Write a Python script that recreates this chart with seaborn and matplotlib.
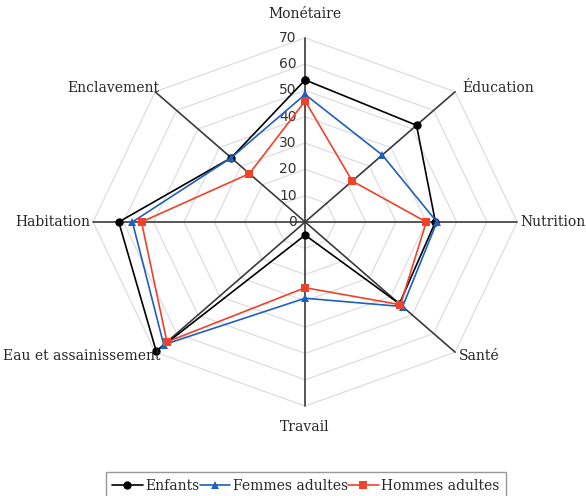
import numpy as np
import pandas as pd
import seaborn as sns
import matplotlib.pyplot as plt

categories = ["Monétaire", "Éducation", "Nutrition", "Santé", "Travail",
              "Eau et assainissement", "Habitation", "Enclavement"]
enfants = [54, 52, 43, 44, 5, 69.5, 61.5, 34.5]
femmes = [48.5, 36, 43.5, 45.5, 29, 66, 57, 34.5]
hommes = [46, 22, 40, 44.5, 25, 64.5, 54, 26]
series_names = ["Enfants", "Femmes adultes", "Hommes adultes"]
ticks = [0, 10, 20, 30, 40, 50, 60, 70]

sns.set_style("white")
plt.rcParams['font.family'] = ['DejaVu Serif']

angles = np.arange(len(categories)) * 2 * np.pi / len(categories)

# build a long table, closing each polygon
rows = []
for name, vals in zip(series_names, [enfants, femmes, hommes]):
    for i in list(range(len(categories))) + [0]:
        rows.append({"série": name, "ordre": len(rows),
                     "x": vals[i] * np.sin(angles[i]),
                     "y": vals[i] * np.cos(angles[i])})
data = pd.DataFrame(rows)

fig = plt.figure(figsize=(5.86, 4.96), dpi=100)
ax = fig.add_axes([0, 0, 1, 1])
ax.set_xlim(-100.7, 92.7)
ax.set_ylim(-104.2, 84.4)
ax.axis('off')

# octagonal grid
for t in ticks[1:]:
    gx = [t * np.sin(a) for a in angles] + [0]
    gy = [t * np.cos(a) for a in angles] + [t]
    ax.plot(gx, gy, color='#dedede', lw=0.9, zorder=0)
for a in angles:
    ax.plot([0, 70 * np.sin(a)], [0, 70 * np.cos(a)], color='#3a3a3a', lw=1.2, zorder=1)

for t in ticks:
    ax.annotate(str(t), (0, t), xytext=(-6, 0), textcoords='offset points',
                ha='right', va='center', fontsize=10, family='DejaVu Sans', color='#333333')

palette = {"Enfants": "black", "Femmes adultes": "#1F5FBF", "Hommes adultes": "#F0412B"}
markers = {"Enfants": "o", "Femmes adultes": "^", "Hommes adultes": "s"}
sns.lineplot(data=data, x="x", y="y", hue="série", style="série", units="série",
             estimator=None, sort=False, palette=palette, markers=markers, dashes=False,
             markersize=6, markeredgewidth=0, linewidth=1.2, ax=ax, zorder=3)

# marker sizes per series
sizes = {"Enfants": 5.5, "Femmes adultes": 7, "Hommes adultes": 6}
for line in ax.lines:
    if line.get_label() in sizes:
        line.set_markersize(sizes[line.get_label()])

# category labels
offsets = [(0, 12, 'center', 'bottom'), (5, 3, 'left', 'center'), (2, 0, 'left', 'center'),
           (3, -3, 'left', 'center'), (0, -10, 'center', 'top'), (4, -3, 'right', 'center'),
           (-2, 0, 'right', 'center'), (3, 3, 'right', 'center')]
for cat, a, (dx, dy, ha, va) in zip(categories, angles, offsets):
    ax.annotate(cat, (70 * np.sin(a), 70 * np.cos(a)), xytext=(dx, dy),
                textcoords='offset points', ha=ha, va=va, fontsize=10)

sns.move_legend(ax, "lower center", bbox_to_anchor=(0.522, -0.02), ncol=3, title=None,
                frameon=True, handlelength=2.2, columnspacing=0.0, handletextpad=0.2,
                borderpad=0.45, fontsize=10, fancybox=False, edgecolor='#7f7f7f')

plt.savefig("out.png", dpi=100)
